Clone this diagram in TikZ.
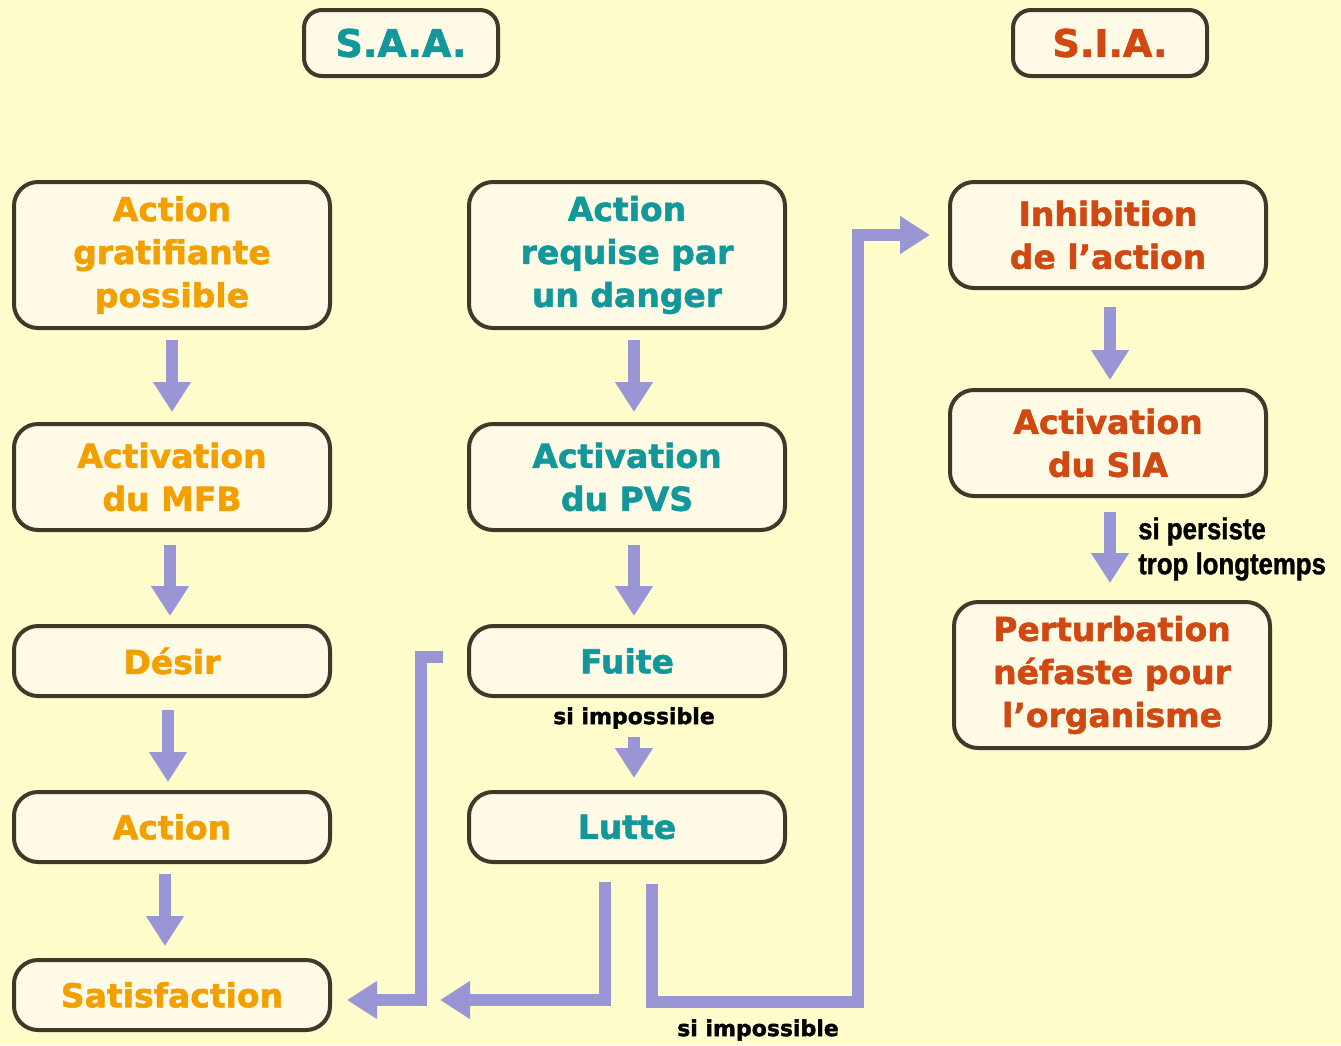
\documentclass[tikz,border=0pt]{standalone}
\usepackage{fontspec}
\setmainfont{DejaVu Sans}
\newfontfamily\heavy[FakeBold=1.6]{DejaVu Sans Bold}
\newfontfamily\narrowfont[FakeStretch=0.86,FakeBold=1.2]{Liberation Sans Bold}
\usetikzlibrary{arrows.meta,calc}
\definecolor{bgc}{HTML}{FFFDCB}
\definecolor{boxfill}{HTML}{FFFBE6}
\definecolor{boxline}{HTML}{3E3A2A}
\definecolor{orangetxt}{HTML}{F2A000}
\definecolor{tealtxt}{HTML}{12989A}
\definecolor{redtxt}{HTML}{D04812}
\definecolor{arrowc}{HTML}{9A96D6}
\tikzset{
  box/.style={draw=boxline, line width=4pt, fill=boxfill, rounded corners=24pt,
    minimum width=316pt, align=center, inner sep=0pt,
    font=\fontsize{33}{43}\heavy},
  hdr/.style={draw=boxline, line width=4pt, fill=boxfill, rounded corners=18pt,
    minimum width=194pt, minimum height=66pt, inner sep=0pt,
    font=\fontsize{38}{44}\heavy},
  tall/.style={minimum height=146pt},
  mid/.style={minimum height=106pt},
  low/.style={minimum height=70pt},
  flow/.style={draw=arrowc, line width=12pt,
    -{Triangle[width=36pt,length=30pt]}},
  bent/.style={draw=arrowc, line width=12pt, line join=miter,
    -{Triangle[width=36pt,length=30pt]}},
  lab/.style={font=\fontsize{22}{27}\heavy, text=black, inner sep=0pt},
}
\begin{document}
\begin{tikzpicture}[x=1pt,y=-1pt]
\fill[bgc] (0,0) rectangle (1341,1045);
\useasboundingbox (0,0) rectangle (1341,1045);

\node[hdr, text=tealtxt] (saa) at (401,43) {S.A.A.};
\node[hdr, text=redtxt] (sia) at (1110,43) {S.I.A.};

% left column
\node[box, tall, text=orangetxt] (a1) at (172,255) {Action\\gratifiante\\possible};
\node[box, mid, text=orangetxt] (a2) at (172,477) {Activation\\du MFB};
\node[box, low, text=orangetxt] (a3) at (172,661) {Désir};
\node[box, low, text=orangetxt] (a4) at (172,827) {Action};
\node[box, low, text=orangetxt] (a5) at (172,995) {Satisfaction};

% middle column
\node[box, tall, text=tealtxt] (b1) at (627,255) {Action\\requise par\\un danger};
\node[box, mid, text=tealtxt] (b2) at (627,477) {Activation\\du PVS};
\node[box, low, text=tealtxt] (b3) at (627,661) {Fuite};
\node[box, low, text=tealtxt] (b4) at (627,827) {Lutte};

% right column
\node[box, mid, text=redtxt] (c1) at (1108,235) {Inhibition\\de l’action};
\node[box, mid, text=redtxt] (c2) at (1108,443) {Activation\\du SIA};
\node[box, tall, text=redtxt] (c3) at (1112,675) {Perturbation\\néfaste pour\\l’organisme};

% vertical arrows
\draw[flow, shorten <=10pt, shorten >=10pt] (a1.south) -- (a2.north);
\draw[flow, shorten <=13pt, shorten >=8pt] ($(a2.south)+(-2,0)$) -- ($(a3.north)+(-2,0)$);
\draw[flow, shorten <=12pt, shorten >=8pt] ($(a3.south)+(-4,0)$) -- ($(a4.north)+(-4,0)$);
\draw[flow, shorten <=10pt, shorten >=12pt] ($(a4.south)+(-7,0)$) -- ($(a5.north)+(-7,0)$);

\draw[flow, shorten <=10pt, shorten >=10pt] ($(b1.south)+(7,0)$) -- ($(b2.north)+(7,0)$);
\draw[flow, shorten <=13pt, shorten >=8pt] ($(b2.south)+(7,0)$) -- ($(b3.north)+(7,0)$);
\draw[flow, shorten <=39pt, shorten >=12pt] ($(b3.south)+(7,0)$) -- ($(b4.north)+(7,0)$);
\node[lab] (si1) at (634,718) {si impossible};

\draw[flow, shorten <=17pt, shorten >=8pt] ($(c1.south)+(2,0)$) -- ($(c2.north)+(2,0)$);
\draw[flow, shorten <=14pt, shorten >=17pt] ($(c2.south)+(2,0)$) -- ($(c3.north)+(-2,0)$);
\node[lab, font=\fontsize{30}{35}\narrowfont, align=left, anchor=west] (persist) at (1138,549) {si persiste\\trop longtemps};

% bent connectors
\coordinate (f0) at ($(b3.west)+(-24,-4)$);
\coordinate (s0) at ($(a5.east)+(15,5)$);
\draw[bent] (f0) -- (421,657) -- (421,1000) -- (s0);

\coordinate (l0) at ($(b4.south)+(-22,18)$);
\coordinate (l1) at (440,1000);
\draw[bent] (l0) -- (605,1000) -- (l1);

\coordinate (r0) at ($(b4.south)+(25,20)$);
\coordinate (r1) at ($(c1.west)+(-18,0)$);
\draw[bent] (r0) -- (652,1002) -- (858,1002) -- (858,235) -- (r1);
\node[lab] (si2) at (758,1030) {si impossible};
\end{tikzpicture}
\end{document}
